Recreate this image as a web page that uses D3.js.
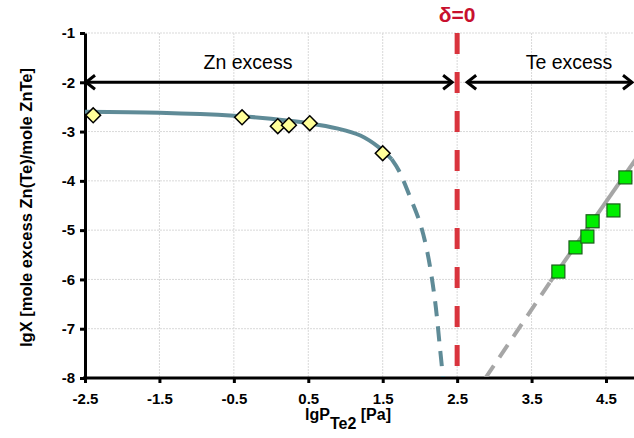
<!DOCTYPE html>
<html>
<head>
<meta charset="utf-8">
<script src="https://cdn.jsdelivr.net/npm/d3@7"></script>
<style>
  body { margin: 0; background: #fff; }
  text { font-family: "Liberation Sans", Arial, sans-serif; }
</style>
</head>
<body>
<svg id="chart" width="634" height="438"></svg>
<script>
// tick values
const xTicks = [-2.5, -1.5, -0.5, 0.5, 1.5, 2.5, 3.5, 4.5];
const yTicks = [-1, -2, -3, -4, -5, -6, -7, -8];

// measured points, Zn excess side (yellow diamonds)
const znX = [-2.39, -0.39, 0.09, 0.24, 0.52, 1.50];
const znY = [-2.67, -2.71, -2.89, -2.87, -2.83, -3.44];

// measured points, Te excess side (green squares)
const teX = [3.86, 4.09, 4.25, 4.32, 4.60, 4.76];
const teY = [-5.84, -5.35, -5.13, -4.82, -4.60, -3.93];

// model curve for Zn side (solid part, then dashed extrapolation)
const znFitX = [-2.5, -1.5, -0.5, 0, 0.5, 0.9, 1.2, 1.45, 1.62];
const znFitY = [-2.6, -2.62, -2.68, -2.74, -2.83, -2.94, -3.08, -3.32, -3.56];
const znExtX = [1.62, 1.72, 1.86, 2.0, 2.1, 2.2, 2.27, 2.31];
const znExtY = [-3.56, -3.8, -4.3, -4.85, -5.45, -6.4, -7.4, -8.0];

// linear fit for Te side
const teFitX = [3.75, 4.95];
const teFitY = [-6.05, -3.45];
const teExtX = [2.88, 3.75];
const teExtY = [-8.0, -6.05];

const stoichX = 2.5;

const svg = d3.select('#chart');
const W = 634;

const x = d3.scaleLinear().domain([-2.5, 4.5]).range([85, 606]);
const y = d3.scaleLinear().domain([-8, -1]).range([378, 33]);

const zip = (xs, ys) => xs.map((v, i) => [v, ys[i]]);
const fmt = d => d3.format('.1f')(d).replace('\u2212', '-');

// grid
const grid = svg.append('g').attr('stroke', '#d9d9d9').attr('stroke-width', 1)
  .attr('stroke-dasharray', '2,1');
grid.selectAll('line.v').data(xTicks.slice(1)).enter().append('line')
  .attr('x1', d => x(d)).attr('x2', d => x(d))
  .attr('y1', y(-1)).attr('y2', y(-8));
grid.selectAll('line.h').data(yTicks.slice(0, -1)).enter().append('line')
  .attr('x1', x(-2.5)).attr('x2', W)
  .attr('y1', d => y(d)).attr('y2', d => y(d));

// axes
const xAxis = d3.axisBottom(x).tickValues(xTicks).tickSize(5).tickSizeOuter(0).tickFormat(fmt);
const gx = svg.append('g').attr('transform', 'translate(0,' + y(-8) + ')').call(xAxis);
gx.select('.domain').attr('stroke', '#000').attr('stroke-width', 3)
  .attr('d', 'M' + (x(-2.5) - 2) + ',0H' + W);
gx.selectAll('.tick line').attr('stroke', '#000').attr('stroke-width', 3);
gx.selectAll('.tick text').attr('font-size', 15).attr('font-weight', 'bold')
  .attr('fill', '#000').attr('dy', '1.2em');

const yAxis = d3.axisLeft(y).tickValues(yTicks).tickSize(5).tickSizeOuter(0)
  .tickFormat(d => String(d));
const gy = svg.append('g').attr('transform', 'translate(' + x(-2.5) + ',0)').call(yAxis);
gy.select('.domain').attr('stroke', '#000').attr('stroke-width', 3);
gy.selectAll('.tick line').attr('stroke', '#000').attr('stroke-width', 3);
gy.selectAll('.tick text').attr('font-size', 15).attr('font-weight', 'bold')
  .attr('fill', '#000').attr('x', -10);

// axis titles
svg.append('text')
  .attr('transform', 'translate(32,' + ((y(-1) + y(-8)) / 2 + 2) + ') rotate(-90)')
  .attr('text-anchor', 'middle').attr('font-size', 16.5).attr('font-weight', 'bold')
  .text('lgX [mole excess Zn(Te)/mole ZnTe]');

const xt = svg.append('text').attr('x', 348).attr('y', 420)
  .attr('text-anchor', 'middle').attr('font-size', 16).attr('font-weight', 'bold');
xt.append('tspan').text('lgP');
xt.append('tspan').attr('dy', 9).text('Te2');
xt.append('tspan').attr('dy', -9).text(' [Pa]');

// clip for plot area
svg.append('clipPath').attr('id', 'clip').append('rect')
  .attr('x', x(-2.5)).attr('y', y(-1) - 2).attr('width', W - x(-2.5)).attr('height', y(-8) - y(-1) + 1);
const plot = svg.append('g').attr('clip-path', 'url(#clip)');

const line = d3.line().x(d => x(d[0])).y(d => y(d[1])).curve(d3.curveCatmullRom);

// Zn fit
plot.append('path').datum(zip(znFitX, znFitY)).attr('d', line)
  .attr('fill', 'none').attr('stroke', '#5f8b97').attr('stroke-width', 4);
plot.append('path').datum(zip(znExtX, znExtY)).attr('d', line)
  .attr('fill', 'none').attr('stroke', '#5f8b97').attr('stroke-width', 4)
  .attr('stroke-dasharray', '15,10');

// Te fit
plot.append('path').datum(zip(teFitX, teFitY)).attr('d', line)
  .attr('fill', 'none').attr('stroke', '#a6a6a6').attr('stroke-width', 4);
plot.append('path').datum(zip(teExtX, teExtY)).attr('d', line)
  .attr('fill', 'none').attr('stroke', '#a6a6a6').attr('stroke-width', 4)
  .attr('stroke-dasharray', '15,10');

// stoichiometry line
svg.append('line')
  .attr('x1', x(stoichX)).attr('x2', x(stoichX))
  .attr('y1', y(-1)).attr('y2', y(-7.8))
  .attr('stroke', '#d9343d').attr('stroke-width', 5).attr('stroke-dasharray', '21,18');
svg.append('text').attr('x', x(stoichX)).attr('y', 22)
  .attr('text-anchor', 'middle').attr('font-size', 21).attr('font-weight', 'bold')
  .attr('fill', '#c8102e').text('δ=0');

// region arrows
const arrowY = y(-2);
function chevron(px, dir) {
  const a = 9;
  svg.append('path')
    .attr('d', 'M' + (px - dir * a) + ',' + (arrowY - 7) + 'L' + px + ',' + arrowY +
      'L' + (px - dir * a) + ',' + (arrowY + 7))
    .attr('fill', 'none').attr('stroke', '#000').attr('stroke-width', 3);
}
svg.append('line').attr('x1', x(-2.5) + 1).attr('x2', x(stoichX) - 5)
  .attr('y1', arrowY).attr('y2', arrowY).attr('stroke', '#000').attr('stroke-width', 3);
chevron(x(-2.5) + 1, -1);
chevron(x(stoichX) - 5, 1);
svg.append('line').attr('x1', x(stoichX) + 10).attr('x2', 632)
  .attr('y1', arrowY).attr('y2', arrowY).attr('stroke', '#000').attr('stroke-width', 3);
chevron(x(stoichX) + 10, -1);
chevron(632, 1);

svg.append('text').attr('x', 248).attr('y', 69).attr('text-anchor', 'middle')
  .attr('font-size', 19.5).attr('fill', '#000').text('Zn excess');
svg.append('text').attr('x', 569).attr('y', 69).attr('text-anchor', 'middle')
  .attr('font-size', 19.5).attr('fill', '#000').text('Te excess');

// markers
svg.append('g').selectAll('path').data(zip(znX, znY)).enter().append('path')
  .attr('d', d3.symbol().type(d3.symbolSquare).size(110))
  .attr('transform', d => 'translate(' + x(d[0]) + ',' + y(d[1]) + ') rotate(45)')
  .attr('fill', '#ffff99').attr('stroke', '#000').attr('stroke-width', 1.5);

svg.append('g').selectAll('rect').data(zip(teX, teY)).enter().append('rect')
  .attr('x', d => x(d[0]) - 6.5).attr('y', d => y(d[1]) - 6.5)
  .attr('width', 13).attr('height', 13)
  .attr('fill', '#00ee00').attr('stroke', '#1a5e1a').attr('stroke-width', 1.2);
</script>
</body>
</html>
